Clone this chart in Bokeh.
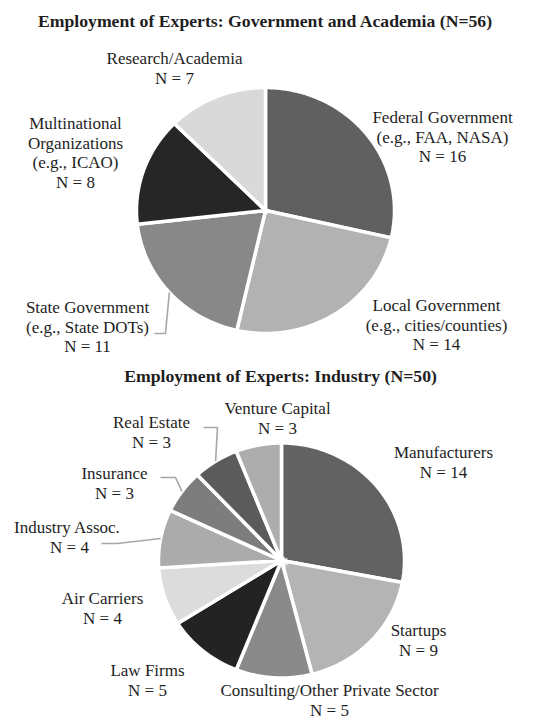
import numpy as np
from bokeh.plotting import figure
from bokeh.models import Range1d
from bokeh.core.properties import value
from bokeh.embed import file_html
from bokeh.resources import INLINE

# ---- data ----
gov_title = "Employment of Experts: Government and Academia (N=56)"
gov_labels = ["Federal Government\n(e.g., FAA, NASA)", "Local Government\n(e.g., cities/counties)",
              "State Government\n(e.g., State DOTs)", "Multinational\nOrganizations\n(e.g., ICAO)",
              "Research/Academia"]
gov_values = [16, 14, 11, 8, 7]
gov_colors = ["#606060", "#b2b2b2", "#888888", "#262626", "#d9d9d9"]

ind_title = "Employment of Experts: Industry (N=50)"
ind_labels = ["Manufacturers", "Startups", "Consulting/Other Private Sector", "Law Firms",
              "Air Carriers", "Industry  Assoc.", "Insurance", "Real Estate", "Venture Capital"]
ind_values = [14, 9, 5, 5, 4, 4, 3, 3, 3]
ind_colors = ["#626262", "#b4b4b4", "#8a8a8a", "#232323", "#dcdcdc", "#ababab", "#7d7d7d", "#5b5b5b", "#adadad"]

# ---- layout (pixel space) ----
W, H = 543, 719
FONT = "Liberation Serif"
TXT = "#1e1e1e"
LH = 19.6

p = figure(width=W, height=H, output_backend="svg", toolbar_location=None,
           x_range=Range1d(0, W), y_range=Range1d(H, 0), min_border=0)
p.axis.visible = False
p.grid.visible = False
p.outline_line_color = None
p.background_fill_color = "white"


def slice_angles(vals):
    tot = float(sum(vals))
    cum = np.concatenate([[0.0], np.cumsum(vals)]) / tot * 2 * np.pi
    return cum[:-1], cum[1:]


def draw_pie(vals, colors, cx, cy, rx, ry):
    a0, a1 = slice_angles(vals)
    xs, ys = [], []
    for s, e in zip(a0, a1):
        t = np.linspace(s, e, 80)
        xs.append(list(np.concatenate([[cx], cx + rx * np.sin(t)])))
        ys.append(list(np.concatenate([[cy], cy - ry * np.cos(t)])))
    p.patches(xs, ys, fill_color=colors, line_color="white", line_width=3.5, line_join="miter")
    mids = (a0 + a1) / 2
    return [(cx + rx * np.sin(m), cy - ry * np.cos(m)) for m in mids]


def draw_label(text, x, y, bold=False, size="17px"):
    lines = text.split("\n")
    p.text(x=[x] * len(lines), y=[y + i * LH for i in range(len(lines))], text=lines,
           text_font=value(FONT), text_font_size=size, text_color=TXT,
           text_align="center", text_baseline="middle",
           text_font_style="bold" if bold else "normal")


def leader(x0, y0, xe, rim):
    p.line([x0, xe, rim[0]], [y0, y0, rim[1]], line_color="#a6a6a6", line_width=1.6)


# ---- pie 1 ----
draw_label(gov_title, 265, 20, bold=True, size="17.7px")
rim1 = draw_pie(gov_values, gov_colors, 265, 210, 129, 123)
gov_pos = [(442, 117), (436, 305), (87, 307), (75, 123), (174, 58)]
for lab, v, (x, y) in zip(gov_labels, gov_values, gov_pos):
    draw_label(lab + "\nN = %d" % v, x, y)
leader(154, 333, 165, rim1[2])

# ---- pie 2 ----
draw_label(ind_title, 280, 375, bold=True, size="17.7px")
rim2 = draw_pie(ind_values, ind_colors, 281, 560, 123, 117.5)
ind_pos = [(443, 452), (418, 630), (329, 690), (147, 670), (102, 598),
           (69, 527), (114, 473), (151, 422), (277, 408)]
for lab, v, (x, y) in zip(ind_labels, ind_values, ind_pos):
    draw_label(lab + "\nN = %d" % v, x, y)
leader(101, 543, 117, rim2[5])
leader(160, 477, 175, rim2[6])
leader(203, 427, 217, rim2[7])

open("out.html", "w").write(file_html(p, INLINE))
